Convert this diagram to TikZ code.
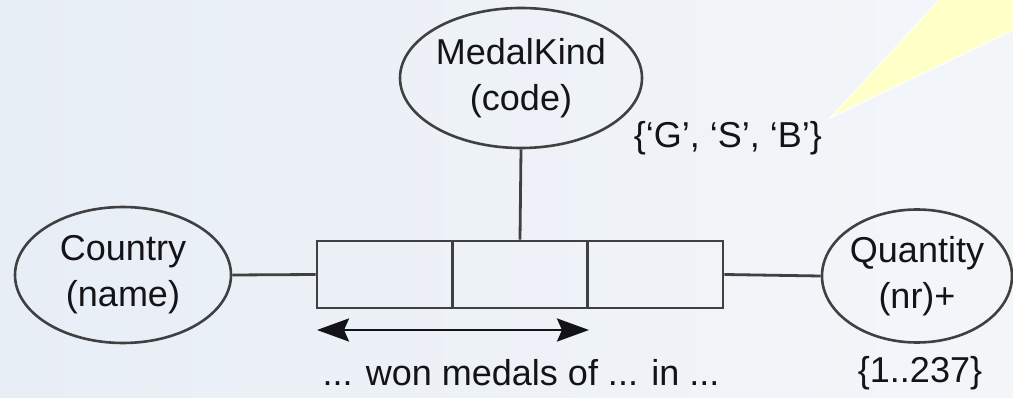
\documentclass[tikz,border=0pt]{standalone}
\usepackage{fontspec}
\setmainfont{Liberation Sans}
\usetikzlibrary{shapes.geometric,arrows.meta}
\definecolor{bgL}{HTML}{E8EEF6}
\definecolor{bgR}{HTML}{F3F6F9}
\definecolor{ink}{HTML}{141418}
\definecolor{edge}{HTML}{404040}
\definecolor{callout}{HTML}{FFFFC8}
\begin{document}
\begin{tikzpicture}[x=1pt,y=-1pt,
  every node/.style={font=\fontsize{36}{46}\selectfont, text=ink},
  entity/.style={ellipse, draw=edge, line width=2.6pt, inner sep=0pt, align=center},
  cell/.style={rectangle, draw=edge, line width=2.8pt, minimum width=135.33pt, minimum height=67pt, inner sep=0pt},
  conn/.style={draw=edge, line width=2.8pt},
  lbl/.style={inner sep=0pt}
]
\useasboundingbox (0,0) rectangle (1013,398);
\shade[left color=bgL, right color=bgR] (0,0) rectangle (1013,398);
% callout
\filldraw[fill=callout, draw=white, line width=1pt] (830,118) -- (940,-1) -- (1014,-1) -- (1014,30) -- cycle;
% entities
\node[entity, minimum width=242pt, minimum height=140pt] (mk) at (521,78) {MedalKind\\(code)};
\node[entity, minimum width=216pt, minimum height=136pt] (country) at (123,275) {Country\\(name)};
\node[entity, minimum width=190pt, minimum height=133pt] (qty) at (917,276) {Quantity\\(nr)+};
% fact type cells
\node[cell] (c1) at (384.67,274.5) {};
\node[cell] (c2) at (520,274.5) {};
\node[cell] (c3) at (655.33,274.5) {};
% connectors
\draw[conn] (country.east) -- (c1.west);
\draw[conn] (c3.east) -- (qty.west);
\draw[conn] (mk.south) -- (c2.north);
% reading arrow
\coordinate (a1) at (317,330);
\coordinate (a2) at (589,330);
\draw[conn, draw=ink, line width=2.8pt, {Stealth[length=32pt,width=23pt,inset=5pt]}-{Stealth[length=32pt,width=23pt,inset=5pt]}] (a1) -- (a2);
% labels
\node[lbl] (reading) at (521,373) {... won medals of ... in ...};
\node[lbl] (vq) at (920,373) {\{1..237\}};
\node[lbl] (vm) at (728,138) {\{‘G’, ‘S’, ‘B’\}};
\end{tikzpicture}
\end{document}
